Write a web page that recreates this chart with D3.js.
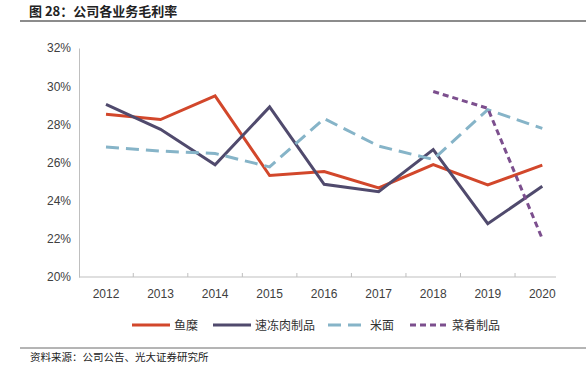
<!DOCTYPE html>
<html><head><meta charset="utf-8">
<script src="https://cdn.jsdelivr.net/npm/d3@7"></script>
<style>body{margin:0;background:#fff}svg{display:block}</style>
</head><body>
<svg id="c" width="586" height="385"></svg>
<script>
const years = ["2012","2013","2014","2015","2016","2017","2018","2019","2020"];
const yuMi = [28.53,28.25,29.49,25.32,25.53,24.67,25.89,24.83,25.86];
const suDongRou = [29.04,27.74,25.88,28.91,24.86,24.47,26.68,22.79,24.75];
const miMian = [26.81,26.6,26.47,25.77,28.30,26.86,26.16,28.77,27.79];
const caiYao = [null,null,null,null,null,null,29.72,28.84,22.0];
const yTicks = [20,22,24,26,28,30,32];
const seriesNames = ["鱼糜","速冻肉制品","米面","菜肴制品"];

const series = [
  {name: seriesNames[0], values: yuMi, color: "#D2472B", dash: null},
  {name: seriesNames[1], values: suDongRou, color: "#504A6D", dash: null},
  {name: seriesNames[2], values: miMian, color: "#86B4C8", dash: "13,7"},
  {name: seriesNames[3], values: caiYao, color: "#7C4F8E", dash: "6,4"}
];

const svg = d3.select("#c");
const font = "'Liberation Sans', Arial, sans-serif";
const cjk = "'Noto Sans CJK SC', sans-serif";

// title
svg.append("text").attr("x", 29).attr("y", 16).attr("font-family", cjk)
  .attr("font-size", 13).attr("font-weight", "bold").attr("fill", "#222")
  .text("图 28：公司各业务毛利率");
svg.append("line").attr("x1", 20).attr("x2", 586).attr("y1", 21).attr("y2", 21)
  .attr("stroke", "#8c8c8c").attr("stroke-width", 2);

const x = d3.scalePoint().domain(years).range([106, 542.3]);
const y = d3.scaleLinear().domain([20, 32]).range([277, 48]);
const step = x.step();

// y axis
const yAxis = d3.axisLeft(y).tickValues(yTicks).tickFormat(d => d + "%").tickSize(0).tickPadding(8);
const gy = svg.append("g").attr("transform", "translate(79,0)").call(yAxis);
gy.select(".domain").attr("stroke", "#bfbfbf").attr("stroke-width", 1);
gy.selectAll("text").attr("font-family", font).attr("font-size", 12).attr("fill", "#404040");

// x axis
const gx = svg.append("g").attr("transform", "translate(0,277)");
gx.append("line").attr("x1", 79).attr("x2", 556).attr("stroke", "#bfbfbf");
gx.selectAll("line.tk").data(years.slice(0, -1)).join("line").attr("class", "tk")
  .attr("x1", d => x(d) + step / 2).attr("x2", d => x(d) + step / 2)
  .attr("y1", 0).attr("y2", -4).attr("stroke", "#bfbfbf");
gx.selectAll("text").data(years).join("text")
  .attr("x", d => x(d)).attr("y", 21).attr("text-anchor", "middle")
  .attr("font-family", font).attr("font-size", 12).attr("fill", "#404040").text(d => d);

// lines
const line = d3.line().defined(d => d.v != null).x(d => x(d.yr)).y(d => y(d.v));
series.forEach(s => {
  svg.append("path")
    .datum(years.map((yr, i) => ({yr, v: s.values[i]})))
    .attr("d", line).attr("fill", "none").attr("stroke", s.color)
    .attr("stroke-width", 3).attr("stroke-dasharray", s.dash);
});

// legend
const legX = [132, 213, 328, 410];
const lg = svg.append("g").attr("transform", "translate(0,325)");
series.forEach((s, i) => {
  lg.append("line").attr("x1", legX[i]).attr("x2", legX[i] + 38).attr("y1", 0).attr("y2", 0)
    .attr("stroke", s.color).attr("stroke-width", 3).attr("stroke-dasharray", s.dash);
  lg.append("text").attr("x", legX[i] + 42).attr("y", 4.5).attr("font-family", cjk)
    .attr("font-size", 12).attr("fill", "#333").text(s.name);
});

// source
svg.append("line").attr("x1", 20).attr("x2", 586).attr("y1", 348).attr("y2", 348)
  .attr("stroke", "#6a6a6a").attr("stroke-width", 1);
svg.append("text").attr("x", 30).attr("y", 361).attr("font-family", cjk)
  .attr("font-size", 10.5).attr("fill", "#222").text("资料来源：公司公告、光大证券研究所");
</script>
</body></html>
